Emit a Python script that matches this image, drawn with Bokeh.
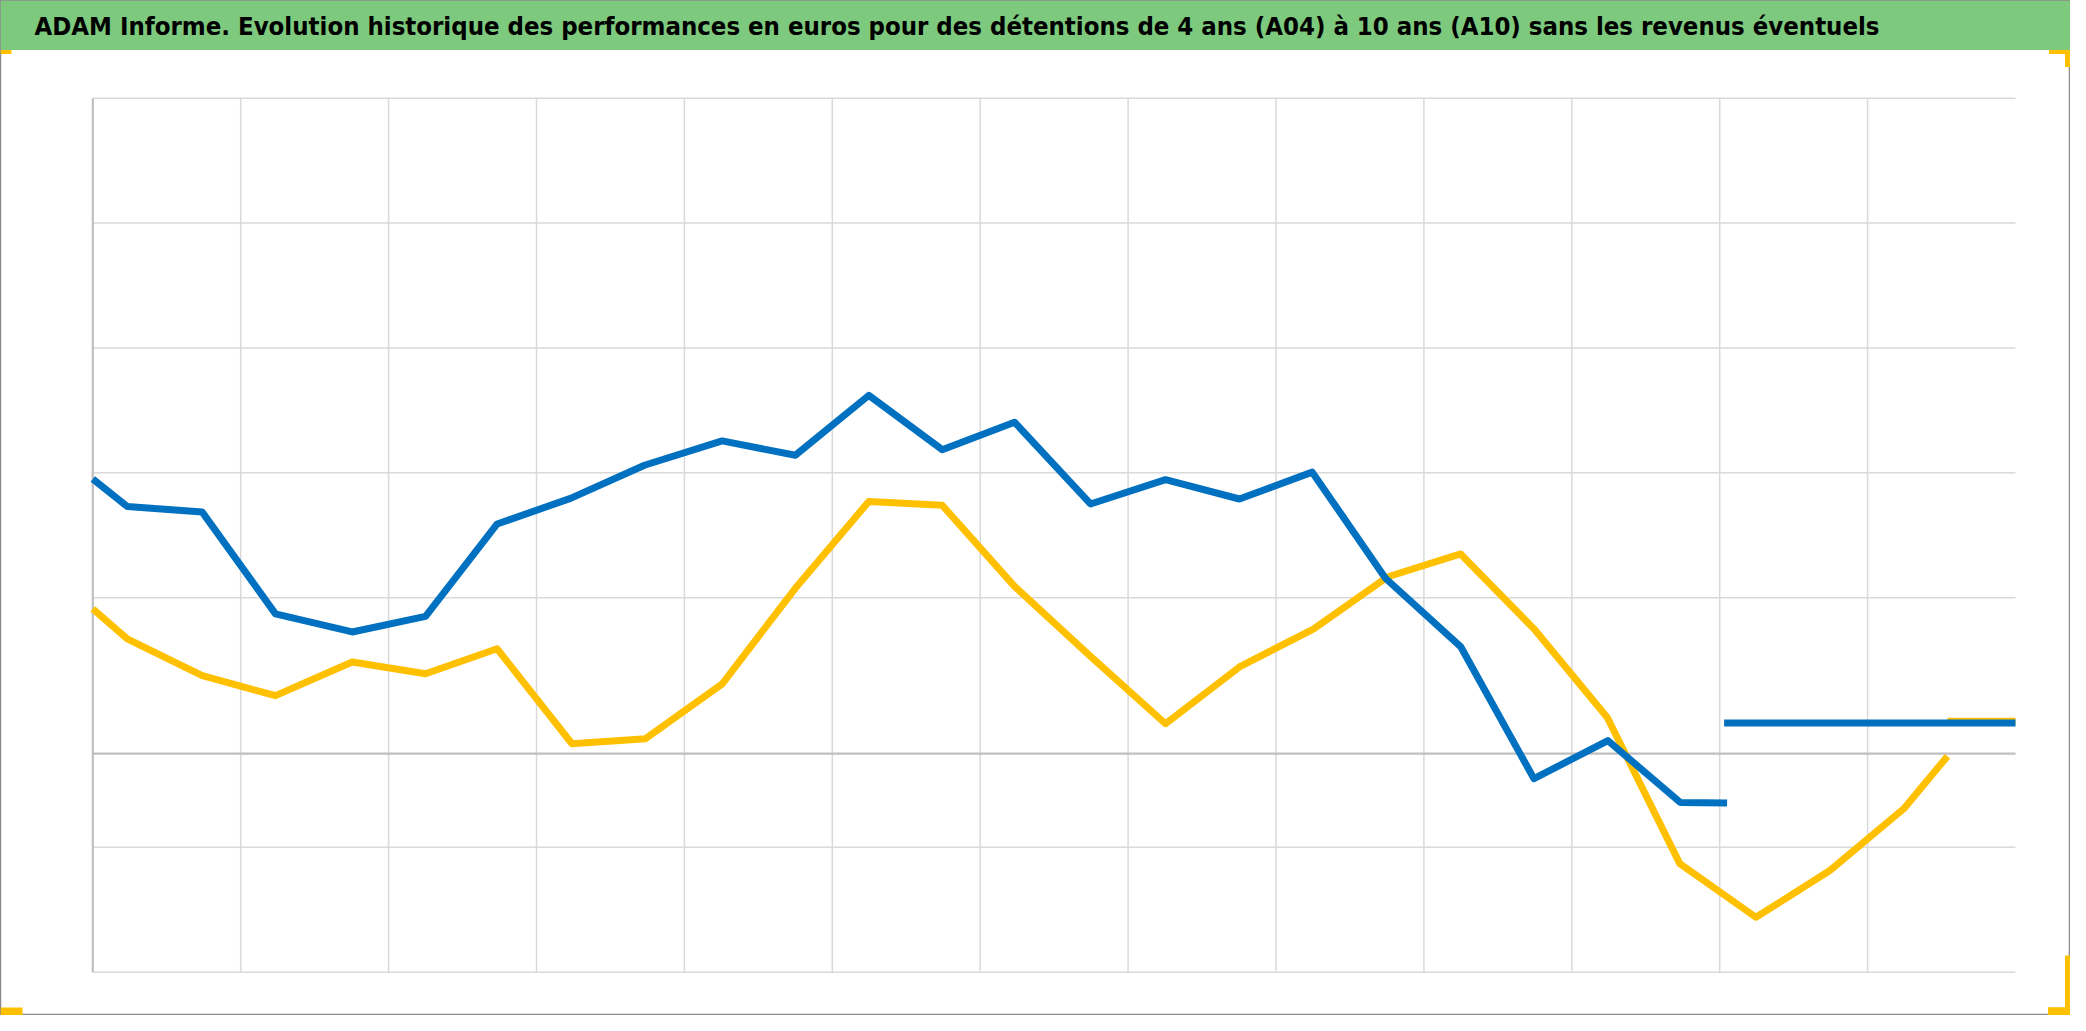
from bokeh.plotting import figure
from bokeh.models import Range1d
from bokeh.core.properties import value
from bokeh.embed import file_html
from bokeh.resources import INLINE

TITLE = ("ADAM Informe. Evolution historique des performances en euros pour des "
         "détentions de 4 ans (A04) à 10 ans (A10) sans les revenus éventuels")

# x in grid intervals (13 intervals), y in % (axis from -35 to 105)
a04_x = [0, 0.233, 0.74, 1.235, 1.754, 2.25, 2.734, 3.23, 3.73, 4.255, 4.75, 5.247,
         5.743, 6.232, 6.746, 7.253, 7.753, 8.245, 8.74, 9.25, 9.744, 10.244, 10.733, 11.05]
a04_y = [44.0, 39.6, 38.7, 22.4, 19.5, 22.0, 36.8, 40.9, 46.2, 50.1, 47.8, 57.4,
         48.7, 53.1, 40.0, 43.9, 40.8, 45.1, 28.1, 17.1, -4.0, 2.1, -7.8, -7.9]
a04_level_x = [11.03, 13.0]
a04_level_y = [4.9, 4.9]

a10_x = [0, 0.233, 0.74, 1.235, 1.754, 2.25, 2.734, 3.24, 3.737, 4.256, 4.75, 5.247,
         5.743, 6.232, 6.746, 7.253, 7.753, 8.255, 8.752, 9.248, 9.744, 10.24, 10.73,
         11.245, 11.745, 12.245, 12.54]
a10_y = [23.2, 18.4, 12.5, 9.3, 14.7, 12.8, 16.8, 1.6, 2.4, 11.2, 26.5, 40.4,
         39.8, 26.8, 15.6, 4.8, 13.9, 20.0, 28.3, 32.0, 20.0, 5.8, -17.6,
         -26.2, -18.7, -8.8, -0.4]
a10_level_x = [12.54, 13.0]
a10_level_y = [5.2, 5.2]

x_min, x_max = 0, 13
y_min, y_max = -35, 105
x_grid_ticks = [1, 2, 3, 4, 5, 6, 7, 8, 9, 10, 11, 12]
y_grid_ticks = [105, 85, 65, 45, 25, -15, -35]

BLUE = "#0070C0"
YELLOW = "#FFC000"
GREEN = "#7DC97D"

# canvas and plot-area layout (pixels)
W, H = 2070, 1015
FL, FT, FW, FH = 92.3, 97.7, 1922.7, 874.0
XPX = FW / (x_max - x_min)
YPX = FH / (y_max - y_min)
x_start = x_min - FL / XPX
x_end = x_max + (W - FL - FW) / XPX
y_top = y_max + FT / YPX
y_bottom = y_min - (H - FT - FH) / YPX


def cx(px):
    return x_start + px / XPX


def cy(py):
    return y_top - py / YPX


p = figure(width=W, height=H, x_range=Range1d(x_start, x_end),
           y_range=Range1d(y_bottom, y_top),
           x_axis_type=None, y_axis_type=None, toolbar_location=None,
           output_backend="svg", min_border=0)
p.outline_line_color = "#8C8C8C"
p.outline_line_width = 1.5
p.background_fill_color = "white"
p.border_fill_color = "white"

# title bar
p.quad(left=[cx(0)], right=[cx(W)], top=[cy(0)], bottom=[cy(49.5)],
       fill_color=GREEN, line_color=None)
p.text(x=[cx(34)], y=[cy(25)], text=[TITLE],
       text_font=value("Liberation Sans Narrow, DejaVu Sans Condensed, sans-serif"),
       text_font_style="bold", text_font_size=value("25.5px"), text_color="black",
       text_baseline="middle", text_align="left")

# grid
p.segment(x0=x_grid_ticks, y0=[y_min] * len(x_grid_ticks),
          x1=x_grid_ticks, y1=[y_max] * len(x_grid_ticks),
          line_color="#D9D9D9", line_width=1.5)
p.segment(x0=[x_min] * len(y_grid_ticks), y0=y_grid_ticks,
          x1=[x_max] * len(y_grid_ticks), y1=y_grid_ticks,
          line_color="#D9D9D9", line_width=1.5)
# axes
p.segment(x0=[x_min], y0=[0], x1=[x_max], y1=[0], line_color="#BFBFBF", line_width=2.2)
p.segment(x0=[x_min], y0=[y_min], x1=[x_min], y1=[y_max], line_color="#BFBFBF", line_width=2.2)

# series
p.line(a10_level_x, a10_level_y, line_color=YELLOW, line_width=7)
p.line(a10_x, a10_y, line_color=YELLOW, line_width=7, line_join="round")
p.line(a04_x, a04_y, line_color=BLUE, line_width=7, line_join="round")
p.line(a04_level_x, a04_level_y, line_color=BLUE, line_width=7)

# selection handles
hl = [0, W - 21.5, W - 5.5, 0, W - 5.5, W - 22.5]
hr = [11, W, W, 22, W, W]
ht = [49.5, 49.5, 49.5, H - 8, H - 60, H - 8.3]
hb = [53.5, 53.5, 66.5, H, H, H]
p.quad(left=[cx(v) for v in hl], right=[cx(v) for v in hr],
       top=[cy(v) for v in ht], bottom=[cy(v) for v in hb],
       fill_color=YELLOW, line_color=None)

open("out.html", "w").write(file_html(p, INLINE))
